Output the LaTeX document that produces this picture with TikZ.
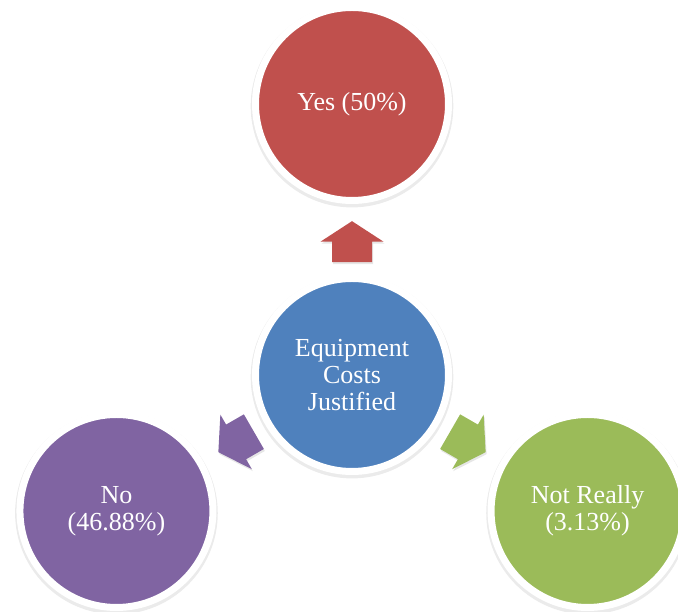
\documentclass[tikz,border=0pt]{standalone}
\usepackage{fontspec}
\setmainfont{Liberation Serif}
\usepackage{tikz}
\usetikzlibrary{calc,shadows}
\definecolor{YesRed}{HTML}{C0504D}
\definecolor{HubBlue}{HTML}{4F81BD}
\definecolor{NoPurple}{HTML}{8064A2}
\definecolor{MaybeGreen}{HTML}{9BBB59}

\begin{document}
\begin{tikzpicture}[x=1pt,y=1pt, every node/.style={font=\fontsize{26}{27}\selectfont}]
\tikzstyle{ring}=[circle,draw=white,line width=7pt,minimum size=193pt,inner sep=0pt,text=white,align=center,drop shadow={opacity=.16,shadow scale=1.05,shadow xshift=0pt,shadow yshift=-2pt}]
\tikzset{blockarrow/.pic={\fill[pic actions,drop shadow={opacity=.2,shadow xshift=1pt,shadow yshift=-2pt}] (-20.5,-20)--(0,-20)--(0,-31.5)--(20.5,0)--(0,31.5)--(0,20)--(-20.5,20)--cycle;}}
\useasboundingbox (0,0) rectangle (678,612);
\node[ring,fill=HubBlue] (hub) at (352,237) {Equipment\\Costs\\Justified};
\node[ring,fill=YesRed] (yes) at ([shift={(90:271)}]hub) {Yes (50\%)};
\node[ring,fill=NoPurple] (no) at ([shift={(210:272)}]hub) {No\\(46.88\%)};
\node[ring,fill=MaybeGreen] (notreally) at ([shift={(330:272)}]hub) {Not Really\\(3.13\%)};
\pic[fill=YesRed,rotate=90] at ($(hub)!.492!(yes)$) {blockarrow};
\pic[fill=NoPurple,rotate=210] at ($(hub)!.492!(no)$) {blockarrow};
\pic[fill=MaybeGreen,rotate=330] at ($(hub)!.492!(notreally)$) {blockarrow};
\end{tikzpicture}
\end{document}
